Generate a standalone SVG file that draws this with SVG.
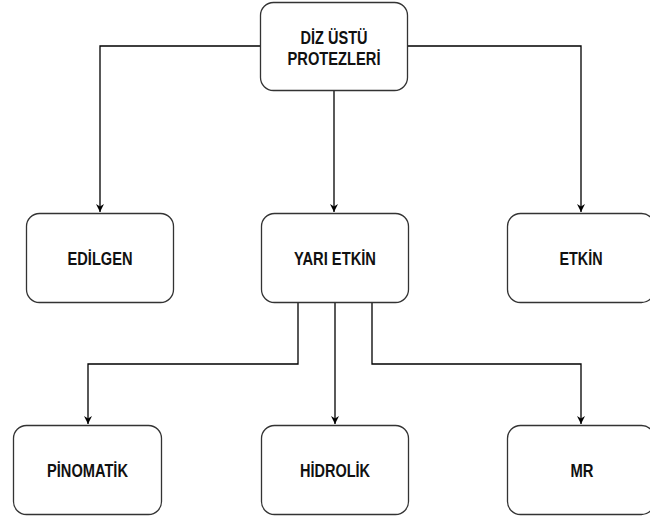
<svg xmlns="http://www.w3.org/2000/svg" width="650" height="520" viewBox="0 0 650 520">
<style>
.box{fill:#fff;stroke:#333;stroke-width:1.3}
.lbl{font-family:"Liberation Sans",Arial,sans-serif;font-weight:bold;font-size:19px;fill:#111;text-anchor:middle}
.edge{fill:none;stroke:#000;stroke-width:1.3}
</style>
<defs>
<marker id="arr" viewBox="0 0 10 10" refX="10" refY="5" markerWidth="8" markerHeight="8" markerUnits="userSpaceOnUse" orient="auto">
<path d="M0,0 L10,5 L0,10 L3,5 Z" fill="#000"/>
</marker>
</defs>
<rect width="650" height="520" fill="#fff"/>
<g id="connectors">
<path class="edge" d="M261,46 H100 V212" marker-end="url(#arr)"/>
<path class="edge" d="M334,91 V212" marker-end="url(#arr)"/>
<path class="edge" d="M408,46 H581 V212" marker-end="url(#arr)"/>
<path class="edge" d="M298,303 V364 H88 V424" marker-end="url(#arr)"/>
<path class="edge" d="M335,303 V424" marker-end="url(#arr)"/>
<path class="edge" d="M372,303 V364 H581 V424" marker-end="url(#arr)"/>
</g>
<g id="n-root">
<rect class="box" x="260.5" y="2.5" width="147" height="88" rx="13"/>
<text class="lbl" x="334" y="44" textLength="67" lengthAdjust="spacingAndGlyphs">DİZ ÜSTÜ</text>
<text class="lbl" x="334" y="65" textLength="93" lengthAdjust="spacingAndGlyphs">PROTEZLERİ</text>
</g>
<g id="n-edilgen">
<rect class="box" x="26.5" y="213.5" width="147" height="89" rx="13"/>
<text class="lbl" x="100" y="265" textLength="65" lengthAdjust="spacingAndGlyphs">EDİLGEN</text>
</g>
<g id="n-yari">
<rect class="box" x="261.5" y="213.5" width="147" height="89" rx="13"/>
<text class="lbl" x="335" y="265" textLength="82" lengthAdjust="spacingAndGlyphs">YARI ETKİN</text>
</g>
<g id="n-etkin">
<rect class="box" x="507.5" y="213.5" width="147" height="89" rx="13"/>
<text class="lbl" x="581" y="265" textLength="43" lengthAdjust="spacingAndGlyphs">ETKİN</text>
</g>
<g id="n-pinomatik">
<rect class="box" x="13.5" y="425.5" width="148" height="89" rx="13"/>
<text class="lbl" x="87.5" y="477" textLength="81" lengthAdjust="spacingAndGlyphs">PİNOMATİK</text>
</g>
<g id="n-hidrolik">
<rect class="box" x="261.5" y="425.5" width="147" height="89" rx="13"/>
<text class="lbl" x="335" y="477" textLength="70" lengthAdjust="spacingAndGlyphs">HİDROLİK</text>
</g>
<g id="n-mr">
<rect class="box" x="507.5" y="425.5" width="147" height="89" rx="13"/>
<text class="lbl" x="582" y="477" textLength="23" lengthAdjust="spacingAndGlyphs">MR</text>
</g>
</svg>
